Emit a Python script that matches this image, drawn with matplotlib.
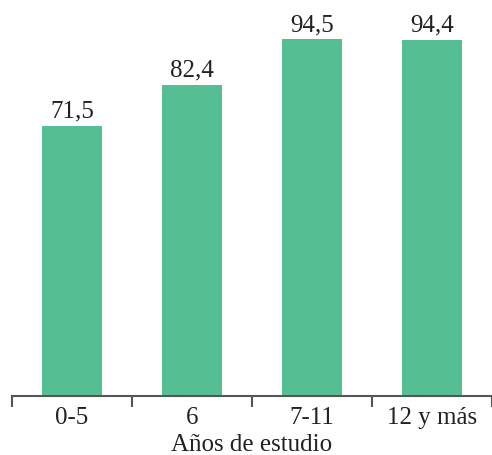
import numpy as np
import matplotlib
matplotlib.use("Agg")
from matplotlib import pyplot as plt

# porcentaje por años de estudio
categories = ["0-5", "6", "7-11", "12 y más"]
values = [71.5, 82.4, 94.5, 94.4]
value_labels = ["71,5", "82,4", "94,5", "94,4"]

plt.rcParams['font.family'] = ['Liberation Serif', 'DejaVu Serif']

fig = plt.figure(figsize=(4.92, 4.56), dpi=100)
ax = fig.add_axes([12 / 492, 59 / 456, 480 / 492, 397 / 456])

x = np.arange(len(categories))
bars = ax.bar(x, values, width=0.5, color='#55bf93')

for b, lab in zip(bars, value_labels):
    ax.annotate(lab, (b.get_x() + b.get_width() / 2, b.get_height()),
                xytext=(0, 3), textcoords='offset points',
                ha='center', va='bottom', fontsize=18, color='#222222')

ax.set_xlim(-0.5, -0.5 + 480 / 121)
ax.set_ylim(0, 397 / 3.776)

for s in ['top', 'right', 'left']:
    ax.spines[s].set_visible(False)
ax.spines['bottom'].set_color('#555555')
ax.spines['bottom'].set_linewidth(1.5)

ax.set_yticks([])
ax.set_xticks(x)
ax.set_xticklabels(categories, fontsize=18, color='#222222')
ax.set_xticks(np.arange(-0.5, 4, 1), minor=True)
ax.tick_params(axis='x', which='major', length=0, pad=7)
ax.tick_params(axis='x', which='minor', length=8, width=1.5, color='#555555')
ax.set_xlabel('Años de estudio', fontsize=18, color='#222222', labelpad=4)

fig.savefig('out.png', dpi=100)
